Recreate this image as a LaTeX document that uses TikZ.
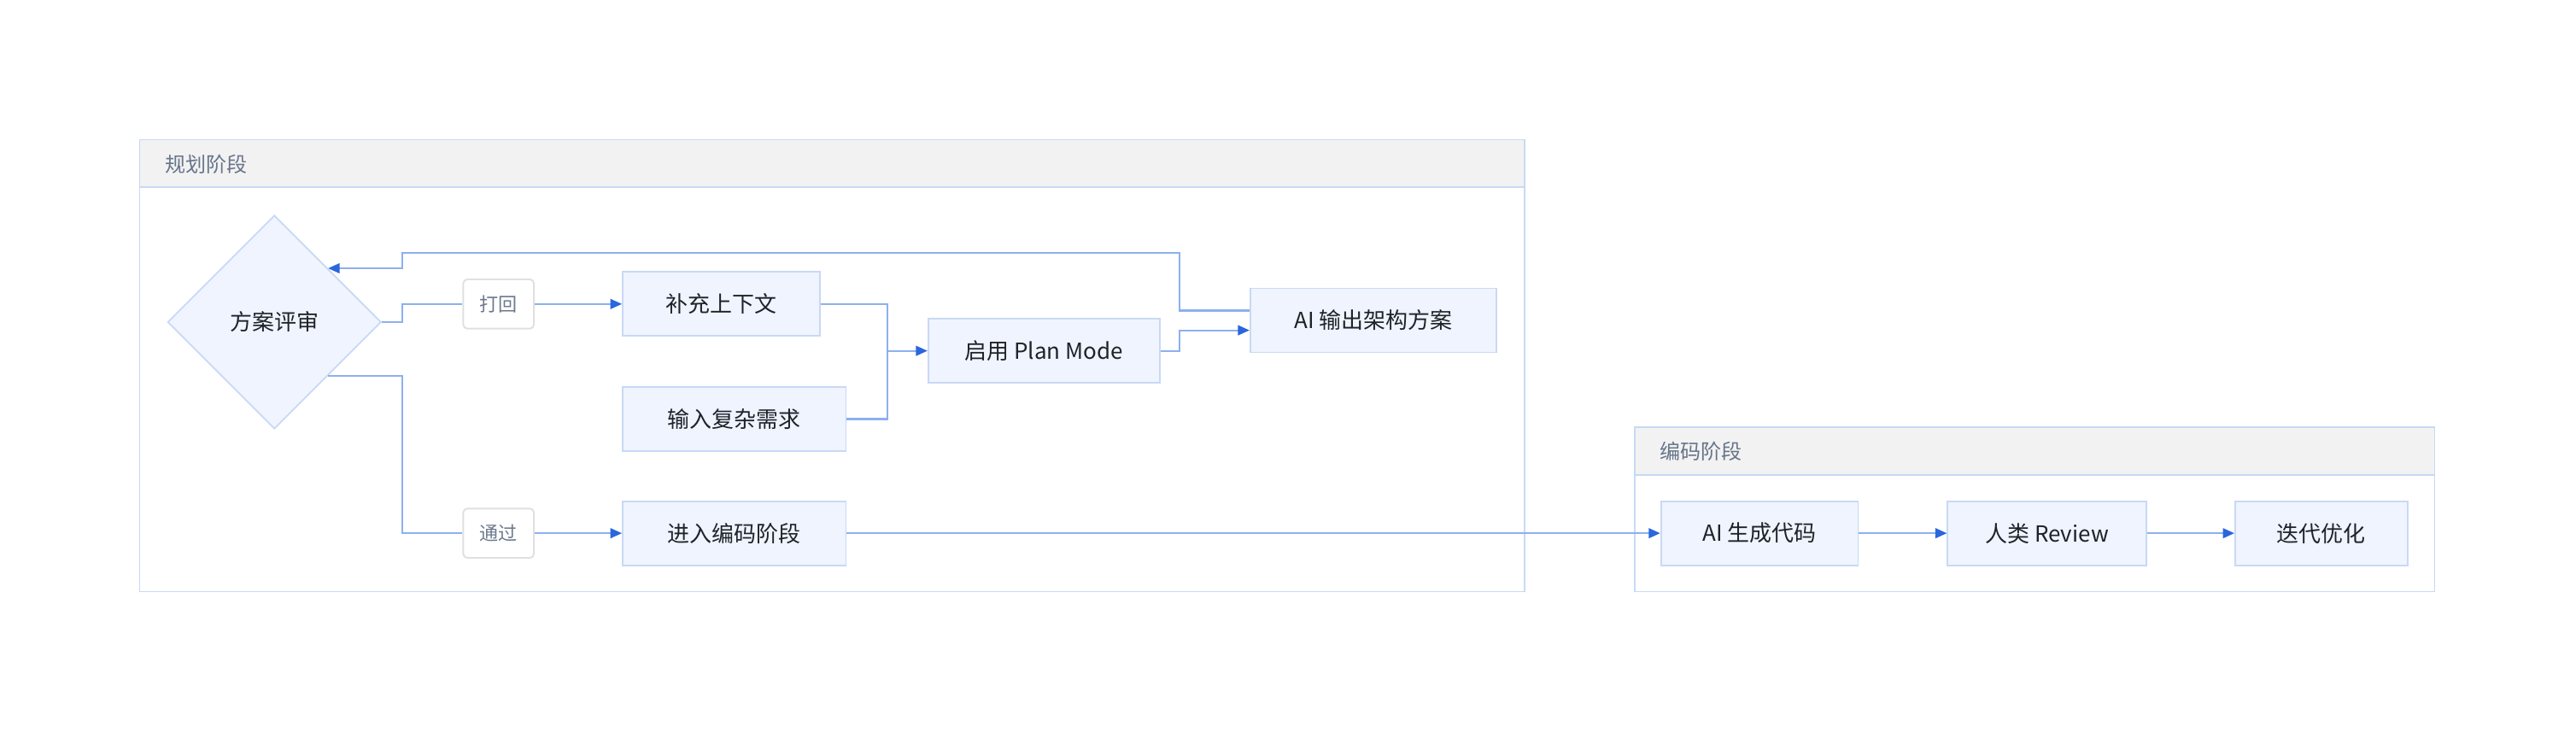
\documentclass[tikz,border=0pt]{standalone}
\usepackage{fontspec}
\setmainfont{Noto Sans CJK SC}
\usepackage{tikz}
\usetikzlibrary{arrows.meta,shapes.geometric}
\usepackage{xcolor}

\definecolor{nodefill}{HTML}{EFF4FE}
\definecolor{nodeline}{HTML}{C8D9F5}
\definecolor{edgeline}{HTML}{8DB0EE}
\definecolor{tipblue}{HTML}{2A66DC}
\definecolor{headfill}{HTML}{F2F2F2}
\definecolor{headtext}{HTML}{68758A}
\definecolor{labline}{HTML}{E0E0E0}
\definecolor{labtext}{HTML}{6C7A8E}
\definecolor{maintext}{HTML}{1F2329}

\begin{document}
\begin{tikzpicture}[x=1pt, y=-1pt,
    stepbox/.style={draw=nodeline, fill=nodefill, line width=0.9pt,
      minimum height=39pt, inner sep=0pt, text=maintext,
      font=\fontsize{13.5}{16}\selectfont},
    choice/.style={diamond, aspect=1, draw=nodeline, fill=nodefill,
      line width=0.9pt, minimum width=130pt, minimum height=130pt,
      inner sep=0pt, text=maintext, font=\fontsize{13.5}{16}\selectfont},
    edgelabel/.style={draw=labline, fill=white, rounded corners=2.5pt,
      line width=1pt, minimum width=43pt, minimum height=30pt,
      inner sep=0pt, text=labtext, font=\fontsize{11.5}{14}\selectfont},
    flow/.style={draw=edgeline, line width=1.1pt},
    arrow/.style={flow, -{Triangle[length=7pt, width=6pt, color=tipblue]}},
    phase/.style={draw=nodeline, line width=0.9pt},
    phasehead/.style={anchor=west, text=headtext,
      font=\fontsize{12.5}{15}\selectfont}]

\fill[white] (0,0) rectangle (1568,446);
\useasboundingbox (0,0) rectangle (1568,446);

% ---- phase frames ----
\fill[headfill] (85,85) rectangle (928,114);
\draw[phase] (85,85) rectangle (928,360);
\draw[phase] (85,114) -- (928,114);
\node[phasehead] (planhead) at (97,100) {规划阶段};

\fill[headfill] (995,260) rectangle (1482,289);
\draw[phase] (995,260) rectangle (1482,360);
\draw[phase] (995,289) -- (1482,289);
\node[phasehead] (codehead) at (1007,274.5) {编码阶段};

% ---- planning steps ----
\node[choice] (review) at (167,196) {方案评审};
\node[edgelabel] (reject) at (303.5,185) {打回};
\node[stepbox, minimum width=120pt] (context) at (439,185) {补充上下文};
\node[stepbox, minimum width=136pt] (needs) at (447,255) {输入复杂需求};
\node[stepbox, minimum width=141pt] (plan) at (635.5,213.5) {启用 Plan Mode};
\node[stepbox, minimum width=150pt] (design) at (836,195) {AI 输出架构方案};
\node[edgelabel] (pass) at (303.5,324.5) {通过};
\node[stepbox, minimum width=136pt] (enter) at (447,324.5) {进入编码阶段};

% ---- coding steps ----
\node[stepbox, minimum width=120pt] (gen) at (1071,324.5) {AI 生成代码};
\node[stepbox, minimum width=121pt] (human) at (1246,324.5) {人类 Review};
\node[stepbox, minimum width=105pt] (iterate) at (1413,324.5) {迭代优化};

% bends of the connectors
\coordinate (split) at (245,196);
\coordinate (merge) at (540,213.5);
\coordinate (fork) at (718,154);
\coordinate (back) at (245,154);

\draw[flow] (review.east) -- (split) |- (reject.west);
\draw[arrow] (reject) -- (context);
\draw[flow] (review.south east) -- (review.south east -| split) |- (pass.west);
\draw[arrow] (pass) -- (enter);

\draw[flow] (context.east) -| (merge);
\draw[flow] (needs.east) -| (merge);
\draw[arrow] (merge) -- (plan.west);
\draw[arrow] (plan.east) -- (plan.east -| fork) |- ([yshift=-6pt]design.west);
\draw[arrow] ([yshift=6pt]design.west) -| (fork) -- (back) |- (review.north east);

\draw[arrow] (enter) -- (gen);
\draw[arrow] (gen) -- (human);
\draw[arrow] (human) -- (iterate);

\end{tikzpicture}
\end{document}
